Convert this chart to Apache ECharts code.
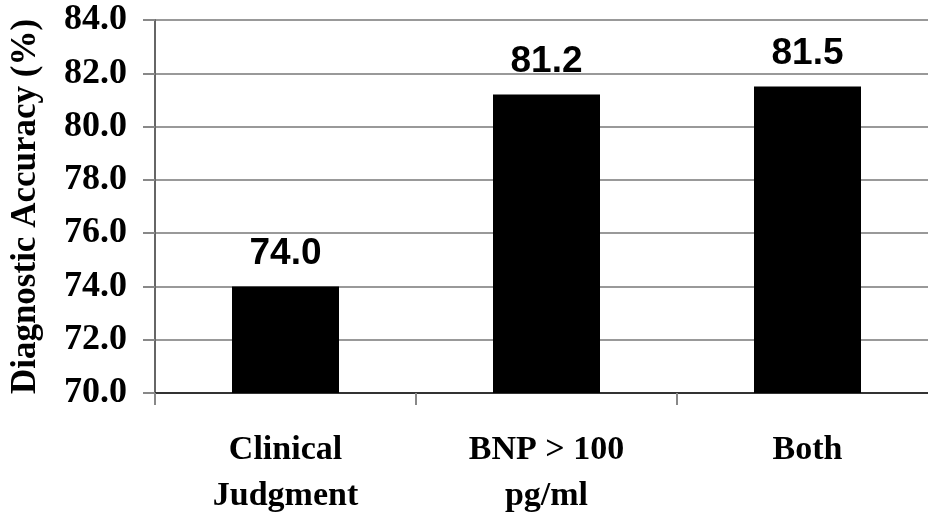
<!DOCTYPE html>
<html>
<head>
<meta charset="utf-8">
<script src="https://cdn.jsdelivr.net/npm/echarts@6/dist/echarts.min.js"></script>
<style>html,body{margin:0;padding:0;background:#fff;}#c{width:928px;height:513px;}</style>
</head>
<body>
<div id="c"></div>
<script>
const categories = ['Clinical\nJudgment', 'BNP > 100\npg/ml', 'Both'];
const values = [74.0, 81.2, 81.5];
const yTitle = 'Diagnostic Accuracy (%)';
const yMin = 70, yMax = 84, yStep = 2;

const chart = echarts.init(document.getElementById('c'));
chart.setOption({
  animation: false,
  backgroundColor: '#fff',
  grid: { left: 155, right: -10, top: 20, bottom: 120, containLabel: false, outerBoundsMode: 'none' },
  xAxis: {
    type: 'category',
    data: categories,
    axisLine: { show: true, lineStyle: { color: '#333', width: 2 } },
    axisTick: { show: true, alignWithLabel: false, length: 12, lineStyle: { color: '#888', width: 2 } },
    axisLabel: {
      margin: 34,
      fontFamily: 'Liberation Serif',
      fontWeight: 'bold',
      fontSize: 34,
      lineHeight: 46,
      color: '#000'
    }
  },
  yAxis: {
    type: 'value',
    min: yMin, max: yMax, interval: yStep,
    name: yTitle,
    nameLocation: 'middle',
    nameGap: 112,
    nameRotate: 90,
    nameTextStyle: { fontFamily: 'Liberation Serif', fontWeight: 'bold', fontSize: 35, color: '#000' },
    axisLine: { show: true, lineStyle: { color: '#666', width: 2 } },
    axisTick: { show: true, length: 12, lineStyle: { color: '#888', width: 2 } },
    splitLine: { show: true, lineStyle: { color: '#999', width: 2 } },
    axisLabel: {
      margin: 28,
      formatter: v => v.toFixed(1),
      fontFamily: 'Liberation Serif',
      fontWeight: 'bold',
      fontSize: 36,
      padding: [4, 0, 0, 0],
      color: '#000'
    }
  },
  series: [{
    type: 'bar',
    data: values,
    barWidth: 107,
    itemStyle: { color: '#000' },
    label: {
      show: true,
      position: 'top',
      distance: 14,
      formatter: p => p.value.toFixed(1),
      fontFamily: 'Liberation Sans',
      fontWeight: 'bold',
      fontSize: 37,
      color: '#000'
    }
  }]
});
</script>
</body>
</html>
